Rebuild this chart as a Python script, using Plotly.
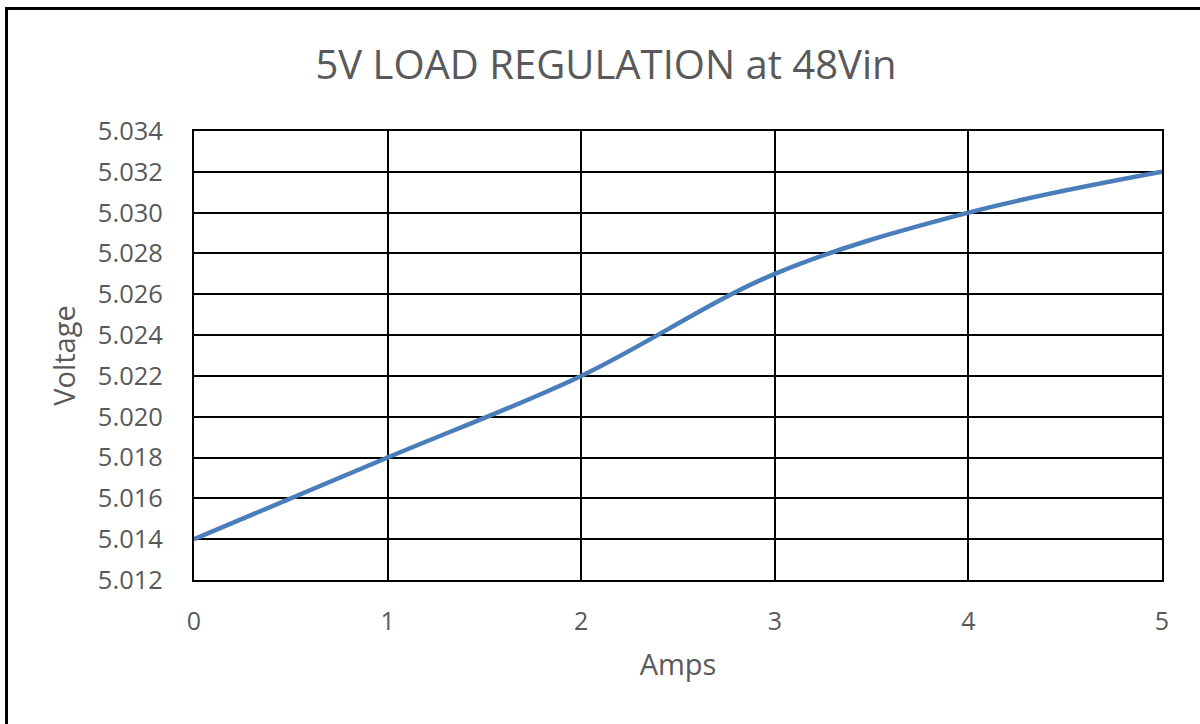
import plotly.graph_objects as go

amps = [0, 1, 2, 3, 4, 5]
voltage = [5.014, 5.018, 5.022, 5.027, 5.030, 5.032]
title_text = "5V LOAD REGULATION at 48Vin"
x_title = "Amps"
y_title = "Voltage"

W, H = 1200, 724
L, R, T, B = 194, 38, 131, 144
pw, ph = W - L - R, H - T - B

def px_x(p):
    return (p - L) / pw

def px_y(p):
    return (H - B - p) / ph

FONT = "Open Sans"
GRAY = "#595959"

fig = go.Figure()
fig.add_trace(go.Scatter(
    x=amps, y=voltage, mode="lines",
    line=dict(color="#4a7ebb", width=4.5, shape="spline", smoothing=1.0),
    showlegend=False,
))

fig.update_layout(
    width=W, height=H,
    margin=dict(l=L, r=R, t=T, b=B),
    paper_bgcolor="white", plot_bgcolor="white",
    title=dict(text=title_text, x=606 / W, xanchor="center", y=1 - 65 / H, yanchor="middle",
               font=dict(family=FONT, size=40, color=GRAY)),
    font=dict(family=FONT, color=GRAY),
    xaxis=dict(
        range=[0, 5], dtick=1, tick0=0,
        showgrid=True, gridcolor="black", gridwidth=2,
        showline=True, linecolor="black", linewidth=2, mirror=True,
        zeroline=False, ticks="", ticklabelstandoff=18,
        tickfont=dict(family=FONT, size=25, color=GRAY),
        title=dict(text=x_title, standoff=19, font=dict(family=FONT, size=29, color=GRAY)),
    ),
    yaxis=dict(
        range=[5.012, 5.034], dtick=0.002, tick0=5.012, tickformat=".3f",
        showgrid=True, gridcolor="black", gridwidth=2,
        showline=True, linecolor="black", linewidth=2, mirror=True,
        zeroline=False, ticks="", ticklabelstandoff=24,
        tickfont=dict(family=FONT, size=25.5, color=GRAY),
        title=dict(text=y_title, standoff=14, font=dict(family=FONT, size=29, color=GRAY)),
    ),
    shapes=[
        dict(type="line", xref="paper", yref="paper",
             x0=px_x(6.5), x1=px_x(6.5), y0=px_y(740), y1=px_y(8.5),
             line=dict(color="black", width=3)),
        dict(type="line", xref="paper", yref="paper",
             x0=px_x(5), x1=px_x(1220), y0=px_y(8.5), y1=px_y(8.5),
             line=dict(color="black", width=3)),
    ],
)

fig.write_html("out.html", config={"displayModeBar": False},
               post_script="document.body.style.margin='0';document.body.style.overflow='hidden';")
